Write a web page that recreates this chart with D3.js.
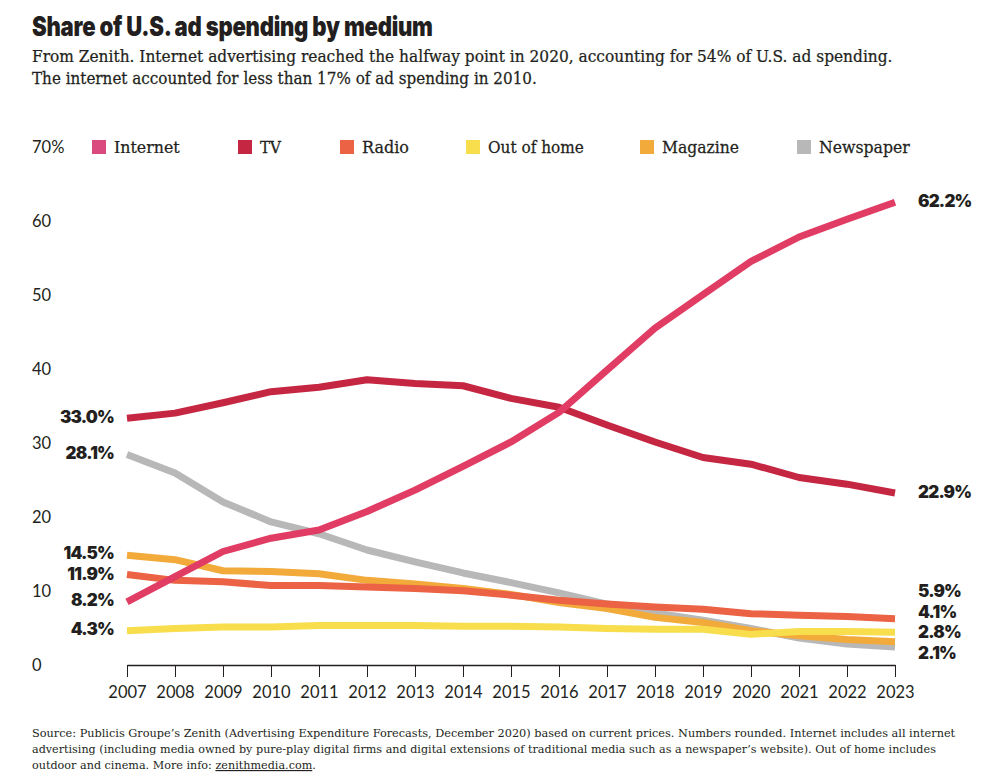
<!DOCTYPE html>
<html>
<head>
<meta charset="utf-8">
<script src="https://cdn.jsdelivr.net/npm/d3@7"></script>
<style>
  html, body { margin: 0; padding: 0; background: #fff; }
  svg { display: block; }
</style>
</head>
<body>
<svg id="chart" width="984" height="782"></svg>
<script>
const years = [2007,2008,2009,2010,2011,2012,2013,2014,2015,2016,2017,2018,2019,2020,2021,2022,2023];
const internet  = [8.2, 11.6, 15.0, 16.8, 17.9, 20.4, 23.3, 26.5, 29.8, 33.8, 39.5, 45.2, 49.7, 54.2, 57.5, 59.9, 62.2];
const tv        = [33.0, 33.7, 35.1, 36.6, 37.2, 38.2, 37.7, 37.4, 35.7, 34.5, 32.1, 29.8, 27.7, 26.8, 25.0, 24.1, 22.9];
const radio     = [11.9, 11.1, 10.9, 10.4, 10.4, 10.2, 10.0, 9.7, 9.1, 8.4, 7.9, 7.5, 7.2, 6.6, 6.4, 6.2, 5.9];
const outOfHome = [4.3, 4.6, 4.8, 4.8, 5.0, 5.0, 5.0, 4.9, 4.9, 4.8, 4.6, 4.5, 4.5, 3.8, 4.2, 4.2, 4.1];
const magazine  = [14.5, 13.9, 12.4, 12.3, 12.0, 11.1, 10.6, 10.0, 9.2, 8.1, 7.3, 6.1, 5.4, 4.3, 3.6, 3.1, 2.8];
const newspaper = [28.1, 25.6, 21.7, 19.0, 17.4, 15.2, 13.6, 12.1, 10.8, 9.4, 7.9, 6.7, 5.7, 4.6, 3.3, 2.5, 2.1];
const seriesNames = ["Internet", "TV", "Radio", "Out of home", "Magazine", "Newspaper"];
const yTicks = [0, 10, 20, 30, 40, 50, 60, 70];

const colors = {
  "Internet": "#e13d64",
  "TV": "#c52742",
  "Radio": "#ec6244",
  "Out of home": "#f8de4c",
  "Magazine": "#f2aa3b",
  "Newspaper": "#b8b8b8"
};
const seriesData = {
  "Internet": internet, "TV": tv, "Radio": radio,
  "Out of home": outOfHome, "Magazine": magazine, "Newspaper": newspaper
};

const svg = d3.select("#chart");
const ink = "#231f20";
const serif = "'DejaVu Serif', 'Liberation Serif', serif";
const sans = "Lato, 'Noto Sans', 'Open Sans', sans-serif";
const heavy = "Inter, 'DejaVu Sans', sans-serif";

const x = d3.scaleLinear().domain([2007, 2023]).range([127, 895]);
const y = d3.scaleLinear().domain([0, 70]).range([662.5, 144.5]);

// helper: text squeezed horizontally to a target width
function fitText(parent, tx, ty, target, attrs, build) {
  const t = parent.append("text").attr("x", 0).attr("y", 0);
  Object.entries(attrs).forEach(([k, v]) => t.attr(k, v));
  build(t);
  const w = t.node().getBBox().width || target;
  t.attr("transform", `translate(${tx},${ty}) scale(${target / w},1)`);
  return t;
}

// Title + subtitle
fitText(svg, 32, 36, 401,
  { "font-family": heavy, "font-weight": 900, "font-size": 27, "fill": ink, "letter-spacing": -0.3 },
  t => t.text("Share of U.S. ad spending by medium"));

const sub = [
  ["From Zenith. Internet advertising reached the halfway point in 2020, accounting for 54% of U.S. ad spending.", 861, 62],
  ["The internet accounted for less than 17% of ad spending in 2010.", 505, 84]
];
sub.forEach(([s, w, yy]) => {
  fitText(svg, 32, yy, w, { "font-family": serif, "font-size": 16.5, "fill": ink, "stroke": ink, "stroke-width": 0.25 }, t => t.text(s));
});

// Y tick labels
svg.append("g").selectAll("text").data(yTicks).join("text")
  .attr("x", 32).attr("y", d => y(d) + 2.5).attr("dy", "0.35em")
  .attr("font-family", sans).attr("font-size", 16.5).attr("fill", ink)
  .text(d => d === 70 ? "70%" : d);

// Legend
const legendX = [92, 238, 340, 466, 640, 797];
const legendW = [66, 22, 47, 96, 77, 91];
const lg = svg.append("g");
seriesNames.forEach((name, i) => {
  lg.append("rect").attr("x", legendX[i]).attr("y", 140).attr("width", 14).attr("height", 14)
    .attr("fill", name === "Internet" ? "#db4a7f" : colors[name]);
  fitText(lg, legendX[i] + 22, 153, legendW[i],
    { "font-family": serif, "font-size": 16.5, "fill": ink, "stroke": ink, "stroke-width": 0.25 }, t => t.text(name));
});

// X axis
const axisY = 665;
const xAxis = d3.axisBottom(x).tickValues(years).tickFormat(d3.format("d"))
  .tickSize(12).tickSizeOuter(0).tickPadding(9);
const ax = svg.append("g").attr("transform", `translate(0,${axisY})`).call(xAxis);
ax.select(".domain").attr("stroke", ink).attr("stroke-width", 1.5);
ax.selectAll(".tick line").attr("stroke", ink).attr("stroke-width", 1);
ax.selectAll(".tick text").attr("font-family", sans).attr("font-size", 16.5).attr("fill", ink);

// Lines (draw back to front)
const line = d3.line().x((d, i) => x(years[i])).y(d => y(d));
const drawOrder = ["Newspaper", "Magazine", "Out of home", "Radio", "TV", "Internet"];
const lg2 = svg.append("g");
drawOrder.forEach(name => {
  lg2.append("path").datum(seriesData[name])
    .attr("d", line).attr("fill", "none")
    .attr("stroke", colors[name]).attr("stroke-width", 7)
    .attr("stroke-linejoin", "round").attr("stroke-linecap", "butt");
});

// Endpoint labels with dodge
function dodge(items, gap, bottomLimit) {
  items.sort((a, b) => a.ty - b.ty);
  let clusters = items.map(it => ({ items: [it], top: it.ty }));
  let changed = true;
  while (changed) {
    changed = false;
    for (let i = 0; i < clusters.length - 1; i++) {
      const a = clusters[i], b = clusters[i + 1];
      const aBottom = a.top + (a.items.length - 1) * gap;
      if (b.top - aBottom < gap) {
        const merged = a.items.concat(b.items);
        const mean = d3.mean(merged, d => d.ty);
        const top = mean - (merged.length - 1) * gap / 2;
        clusters.splice(i, 2, { items: merged, top });
        changed = true;
        break;
      }
    }
  }
  clusters.forEach(c => {
    const bottom = c.top + (c.items.length - 1) * gap;
    if (bottom > bottomLimit) c.top -= (bottom - bottomLimit);
    c.items.forEach((it, k) => it.ly = c.top + k * gap);
  });
  return items;
}

const last = years.length - 1;
const leftItems = dodge(seriesNames.map(n => ({ name: n, v: seriesData[n][0], ty: y(seriesData[n][0]) })), 20.7, 655);
const rightItems = dodge(seriesNames.map(n => ({ name: n, v: seriesData[n][last], ty: y(seriesData[n][last]) })), 20.7, 654);

const labelAttrs = { "font-family": heavy, "font-weight": 900, "font-size": 17, "fill": ink, "letter-spacing": -0.8 };
const lbl = svg.append("g");
leftItems.forEach(d => {
  const t = lbl.append("text").attr("x", 114).attr("y", d.ly - 1.5).attr("dy", "0.35em").attr("text-anchor", "end");
  Object.entries(labelAttrs).forEach(([k, v]) => t.attr(k, v));
  t.text(d3.format(".1f")(d.v) + "%");
});
rightItems.forEach(d => {
  const t = lbl.append("text").attr("x", 918).attr("y", d.ly - 1).attr("dy", "0.35em");
  Object.entries(labelAttrs).forEach(([k, v]) => t.attr(k, v));
  t.text(d3.format(".1f")(d.v) + "%");
});

// Footer
const footAttrs = { "font-family": serif, "font-size": 11.5, "fill": ink };
fitText(svg, 32, 737, 925, footAttrs,
  t => t.text("Source: Publicis Groupe’s Zenith (Advertising Expenditure Forecasts, December 2020) based on current prices. Numbers rounded. Internet includes all internet"));
fitText(svg, 32, 753, 905, footAttrs,
  t => t.text("advertising (including media owned by pure-play digital firms and digital extensions of traditional media such as a newspaper’s website). Out of home includes"));
fitText(svg, 32, 769, 284, footAttrs, t => {
  t.append("tspan").text("outdoor and cinema. More info: ");
  t.append("tspan").attr("text-decoration", "underline").text("zenithmedia.com");
  t.append("tspan").text(".");
});
</script>
</body>
</html>
